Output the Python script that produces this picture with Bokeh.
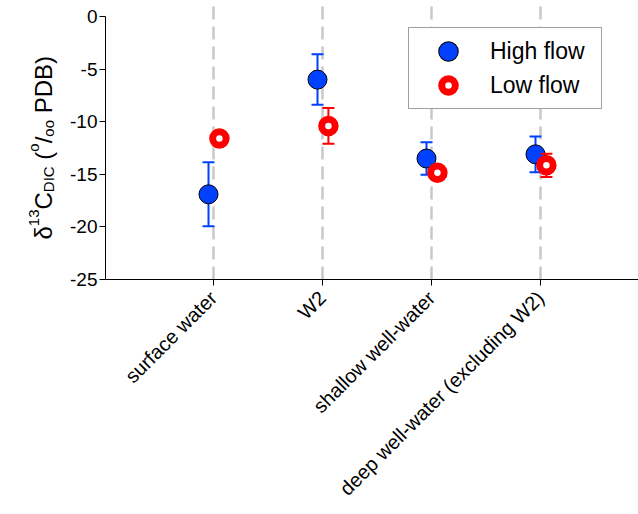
import math
from bokeh.plotting import figure
from bokeh.layouts import row
from bokeh.models import (ColumnDataSource, Range1d, FixedTicker, Legend, LegendItem)
from bokeh.core.properties import value, field
from bokeh.embed import file_html
from bokeh.resources import INLINE

# ---------------- data ----------------
categories = ["surface water", "W2", "shallow well-water", "deep well-water (excluding W2)"]
cat_pos = [1, 2, 3, 4]
high_mean = [-16.9, -6.0, -13.5, -13.1]
high_sd = [3.05, 2.4, 1.55, 1.7]
low_mean = [-11.6, -10.4, -14.85, -14.15]
low_sd = [0.4, 1.7, 0.4, 1.1]
y_ticks = [0, -5, -10, -15, -20, -25]
y_tick_labels = ["0", "-5", "-10", "-15", "-20", "-25"]
series_names = ["High flow", "Low flow"]

BLUE = "#0040ff"
RED = "#ff0000"
FONT = "Liberation Sans"
H = 514
LABEL_W = 62
FRAME_LEFT = 105
FRAME_H = 279
BOTTOM = H - FRAME_H

p = figure(width=638 - LABEL_W, height=H, output_backend="svg", toolbar_location=None,
           x_range=Range1d(0.01, 4.9), y_range=Range1d(-25, 1.52),
           min_border_left=FRAME_LEFT - LABEL_W, min_border_right=0, min_border_top=0,
           min_border_bottom=BOTTOM)
p.outline_line_color = None
p.background_fill_color = "white"
p.border_fill_color = "white"

# grid
p.ygrid.visible = False
p.xgrid.ticker = FixedTicker(ticks=cat_pos)
p.xgrid.grid_line_color = "#c8c8c8"
p.xgrid.grid_line_width = 2.5
p.xgrid.grid_line_dash = "13 7"

# x axis
p.xaxis.ticker = FixedTicker(ticks=[0] + cat_pos)
overrides = {0: ""}
for c, name in zip(cat_pos, categories):
    overrides[c] = name
p.xaxis.major_label_overrides = overrides
p.xaxis.major_label_orientation = math.pi / 4
p.xaxis.major_label_text_font = FONT
p.xaxis.major_label_text_font_size = "20px"
p.xaxis.major_label_text_color = "black"
p.xaxis.major_tick_out = 6
p.xaxis.major_tick_in = 0
p.xaxis.minor_tick_line_color = None
p.xaxis.major_label_standoff = 9
p.xaxis.axis_line_color = "black"
p.xaxis.major_tick_line_color = "black"

# y axis
p.yaxis.ticker = FixedTicker(ticks=y_ticks)
p.yaxis.major_label_overrides = {t: l for t, l in zip(y_ticks, y_tick_labels)}
p.yaxis.bounds = (-25, 0)
p.yaxis.major_label_text_font = FONT
p.yaxis.major_label_text_font_size = "19px"
p.yaxis.major_label_text_color = "black"
p.yaxis.major_tick_out = 6
p.yaxis.major_tick_in = 0
p.yaxis.minor_tick_line_color = None
p.yaxis.major_label_standoff = 2
p.yaxis.axis_line_color = "black"
p.yaxis.major_tick_line_color = "black"

# ---------------- error bars + points ----------------
hx = [c - 0.045 for c in cat_pos]
lx = [c + 0.055 for c in cat_pos]
h_up = [m + s for m, s in zip(high_mean, high_sd)]
h_lo = [m - s for m, s in zip(high_mean, high_sd)]
l_up = [m + s for m, s in zip(low_mean, low_sd)]
l_lo = [m - s for m, s in zip(low_mean, low_sd)]

p.segment(x0=hx, y0=h_lo, x1=hx, y1=h_up, line_color=BLUE, line_width=2)
p.scatter(x=hx + hx, y=h_up + h_lo, marker="dash", size=12, line_color=BLUE, line_width=2)
blue_pts = p.scatter(x=hx, y=high_mean, size=19, fill_color=BLUE, line_color="black", line_width=1)

p.segment(x0=lx, y0=l_lo, x1=lx, y1=l_up, line_color=RED, line_width=2)
p.scatter(x=lx + lx, y=l_up + l_lo, marker="dash", size=12, line_color=RED, line_width=2)
red_pts = p.scatter(x=lx, y=low_mean, size=13.5, fill_color="white", line_color=RED, line_width=7)

# legend swatch helpers (NaN position: nothing drawn in the plot area)
nan = float("nan")
blue_leg_outline = p.scatter(x=[nan], y=[nan], size=13.5, fill_color=BLUE, line_color="black", line_width=7)
blue_leg_fill = p.scatter(x=[nan], y=[nan], size=13.5, fill_color=BLUE, line_color=BLUE, line_width=5)

legend = Legend(items=[
    LegendItem(label=series_names[0], renderers=[blue_pts, blue_leg_outline, blue_leg_fill]),
    LegendItem(label=series_names[1], renderers=[red_pts]),
], location=(303, 170))
legend.glyph_height = 34
legend.glyph_width = 66
legend.spacing = 0
legend.padding = 6
legend.margin = 0
legend.label_standoff = 9
legend.label_width = 105
legend.label_height = 20
legend.label_text_font = FONT
legend.label_text_font_size = "23px"
legend.label_text_color = "black"
legend.border_line_color = "#404040"
legend.border_line_width = 1.5
legend.background_fill_color = "white"
legend.background_fill_alpha = 1.0
p.add_layout(legend, "center")

# ---------------- y-axis title (separate narrow panel, pixel coordinates) ----------------
# frame of this panel is aligned with the main frame: y = pixels above frame bottom
lab = figure(width=LABEL_W, height=H, output_backend="svg", toolbar_location=None,
             x_range=Range1d(0, LABEL_W), y_range=Range1d(0, FRAME_H),
             x_axis_type=None, y_axis_type=None,
             min_border_left=0, min_border_right=0, min_border_top=0,
             min_border_bottom=BOTTOM)
lab.outline_line_color = None
lab.grid.visible = False
lab.background_fill_color = "white"
lab.border_fill_color = "white"

char_w = {'δ': 0.556, '1': 0.556, '3': 0.556, 'C': 0.722, 'D': 0.722, 'I': 0.278,
          ' ': 0.278, '(': 0.333, ')': 0.333, 'o': 0.556, '/': 0.278, 'P': 0.667, 'B': 0.667}
BIG, SMALL = 24, 15
SPACE = char_w[' '] * BIG
# (text, font size, baseline shift, gap before)
pieces = [("δ", BIG, 0, 0), ("13", SMALL, 10, 0), ("C", BIG, 0, 0), ("DIC", SMALL, -5, 0),
          ("(", BIG, 0, SPACE), ("o", SMALL, 10, 0), ("/", BIG, 0, 0), ("oo", SMALL, -5, 0),
          ("PDB)", BIG, 0, SPACE)]
base_x = 43
pos = FRAME_H - 239
tx, ty, tt, tf = [], [], [], []
for txt, fs, shift, gap in pieces:
    pos += gap
    tx.append(base_x - shift)
    ty.append(pos)
    tt.append(txt)
    tf.append(f"{fs}px")
    pos += sum(char_w.get(ch, 0.556) for ch in txt) * fs
lab.text(x="x", y="y", text="t", source=ColumnDataSource(dict(x=tx, y=ty, t=tt, fs=tf)),
         angle=math.pi / 2, text_font=value(FONT), text_font_size=field("fs"),
         text_color="black", text_align="left", text_baseline="alphabetic")

layout = row(lab, p, spacing=0)
open("out.html", "w").write(file_html(layout, INLINE))
